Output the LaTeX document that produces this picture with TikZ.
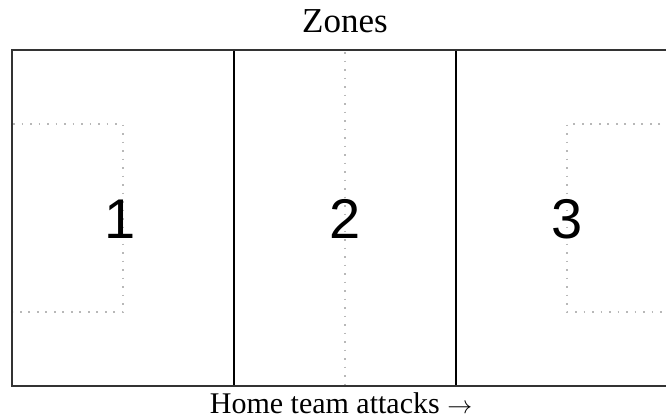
\documentclass[tikz,border=0pt]{standalone}
\usepackage{fontspec}
\setmainfont{Liberation Serif}
\newfontfamily\numfont{Liberation Sans}
\begin{document}
\begin{tikzpicture}[x=1pt,y=-1pt,
  fieldline/.style={draw=black!80, line width=2pt},
  zoneline/.style={draw=black, line width=1.4pt},
  markline/.style={draw=black!28, line width=1.6pt, dash pattern=on 1.6pt off 6.9pt},
  zonenum/.style={font=\numfont\fontsize{56}{60}\selectfont, anchor=base},
  caption/.style={anchor=base, inner sep=0pt}]
\useasboundingbox (0,0) rectangle (666,418);
\begin{scope}
\clip (0,0) rectangle (666,418);
% penalty boxes and halfway line
\draw[markline] (13,124) -- (123,124) -- (123,312) -- (13,312);
\draw[markline] (677,124) -- (567,124) -- (567,312) -- (677,312);
\draw[markline] (345,52) -- (345,385);
% zone dividers
\draw[zoneline] (234,50) -- (234,386);
\draw[zoneline] (456,50) -- (456,386);
% field outline
\draw[fieldline] (12,50) rectangle (678,386);
\end{scope}
\node[zonenum] (z1) at (120,238) {1};
\node[zonenum] (z2) at (345,238) {2};
\node[zonenum] (z3) at (567,238) {3};
\node[caption, font=\fontsize{35}{38}\selectfont] (title) at (345,32) {Zones};
\node[caption, font=\fontsize{30}{32}\selectfont] (dir) at (341,413) {Home team attacks $\rightarrow$};
\end{tikzpicture}
\end{document}
